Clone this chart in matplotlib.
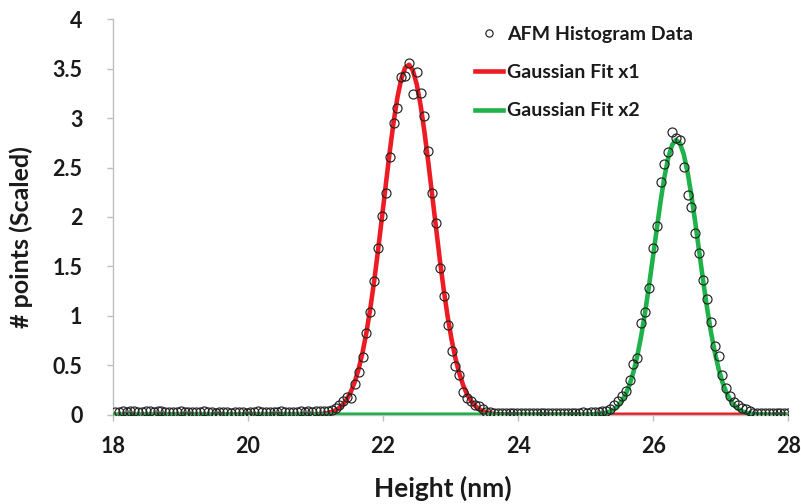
#!/usr/bin/env python3
"""AFM height histogram with two Gaussian fits."""

from __future__ import annotations

import matplotlib

matplotlib.use("Agg")
import matplotlib.pyplot as plt
import numpy as np

# Histogram bins (nm): first bin centre and bin width
BIN_START = 18.03
BIN_WIDTH = 0.0573

# Scaled counts per bin
counts = [
    0.03, 0.03, 0.04, 0.03, 0.035, 0.04, 0.03, 0.03, 0.04, 0.035,
    0.03, 0.035, 0.04, 0.03, 0.03, 0.025, 0.03, 0.035, 0.03, 0.025,
    0.03, 0.025, 0.03, 0.035, 0.03, 0.025, 0.02, 0.025, 0.03, 0.025,
    0.02, 0.025, 0.03, 0.025, 0.02, 0.025, 0.03, 0.035, 0.03, 0.025,
    0.03, 0.025, 0.03, 0.035, 0.03, 0.025, 0.03, 0.03, 0.035, 0.03,
    0.035, 0.03, 0.035, 0.04, 0.035, 0.04, 0.05, 0.067, 0.10, 0.135,
    0.175, 0.17, 0.31, 0.43, 0.58, 0.83, 1.04, 1.35, 1.69, 2.01,
    2.245, 2.61, 2.95, 3.10, 3.42, 3.43, 3.56, 3.24, 3.47, 3.25,
    3.02, 2.67, 2.24, 1.94, 1.48, 1.205, 0.91, 0.65, 0.495, 0.40,
    0.23, 0.17, 0.135, 0.10, 0.084, 0.06, 0.033, 0.025, 0.02, 0.02,
    0.015, 0.02, 0.015, 0.02, 0.015, 0.015, 0.02, 0.015, 0.02, 0.015,
    0.015, 0.02, 0.015, 0.015, 0.02, 0.015, 0.02, 0.015, 0.02, 0.02,
    0.02, 0.025, 0.02, 0.025, 0.03, 0.03, 0.035, 0.043, 0.06, 0.094,
    0.135, 0.185, 0.24, 0.35, 0.51, 0.57, 0.93, 1.04, 1.28, 1.69,
    1.91, 2.35, 2.54, 2.66, 2.86, 2.795, 2.78, 2.51, 2.22, 2.10,
    1.84, 1.64, 1.36, 1.17, 0.94, 0.70, 0.59, 0.40, 0.275, 0.19,
    0.125, 0.094, 0.068, 0.055, 0.043, 0.023, 0.02, 0.015, 0.02, 0.015,
    0.015, 0.02, 0.015, 0.015, 0.015,
]

# Fitted curves evaluated on the same bins (zero outside the listed span)
fit_x1 = [0.0] * 50 + [
    0.001, 0.0018, 0.0032, 0.0058, 0.010, 0.0169, 0.0279, 0.0449, 0.0705, 0.108,
    0.1616, 0.2358, 0.3356, 0.466, 0.631, 0.835, 1.077, 1.355, 1.664, 1.993,
    2.329, 2.656, 2.955, 3.208, 3.397, 3.510, 3.539, 3.481, 3.340, 3.128,
    2.857, 2.546, 2.215, 1.879, 1.555, 1.256, 0.989, 0.761, 0.571, 0.418,
    0.298, 0.208, 0.141, 0.0936, 0.0606, 0.0382, 0.0235, 0.0142, 0.0083, 0.0047,
    0.0026, 0.0014,
] + [0.0] * 73

fit_x2 = [0.0] * 120 + [
    0.0002, 0.0004, 0.0009, 0.0017, 0.0034, 0.0062, 0.0113, 0.0198, 0.0336, 0.0555,
    0.0888, 0.138, 0.208, 0.304, 0.432, 0.595, 0.795, 1.031, 1.297, 1.583,
    1.875, 2.154, 2.402, 2.599, 2.729, 2.779, 2.747, 2.635, 2.452, 2.214,
    1.940, 1.649, 1.360, 1.088, 0.845, 0.637, 0.466, 0.330, 0.227, 0.152,
    0.098, 0.062, 0.0378, 0.0224, 0.0128, 0.0072, 0.0039, 0.002, 0.001,
] + [0.0] * 6

x_ticks = [18, 20, 22, 24, 26, 28]
y_ticks = [0, 0.5, 1, 1.5, 2, 2.5, 3, 3.5, 4]
y_tick_labels = ["0", "0.5", "1", "1.5", "2", "2.5", "3", "3.5", "4"]

RED = "#ed1c24"
GREEN = "#1fb24a"
AXIS_GREY = "#bfbfbf"
TEXT = "#1a1a1a"


def main() -> None:
    plt.rcParams["font.family"] = ["Lato", "DejaVu Sans"]
    plt.rcParams["font.weight"] = "bold"

    height = BIN_START + BIN_WIDTH * np.arange(len(counts))

    fig = plt.figure(figsize=(8.01, 5.04), dpi=100)
    ax = fig.add_axes([0.141, 0.177, 0.843, 0.785])

    ax.plot(height, fit_x1, color=RED, lw=3.3, label="Gaussian Fit x1", zorder=2)
    ax.plot(height, fit_x2, color=GREEN, lw=3.3, label="Gaussian Fit x2", zorder=3)
    ax.plot(height, counts, ls="none", marker="o", ms=6.5, mfc="none",
            mec="#222222", mew=0.85, label="AFM Histogram Data", zorder=4)

    ax.set_xlim(18, 28)
    ax.set_ylim(0, 4)
    ax.set_xticks(x_ticks)
    ax.set_xticklabels([str(t) for t in x_ticks])
    ax.set_yticks(y_ticks)
    ax.set_yticklabels(y_tick_labels)
    ax.tick_params(axis="both", direction="out", length=4, width=1,
                   color=AXIS_GREY, labelsize=15.5, labelcolor=TEXT)
    ax.tick_params(axis="x", pad=11)
    ax.tick_params(axis="y", pad=18)

    for side in ("top", "right"):
        ax.spines[side].set_visible(False)
    for side in ("left", "bottom"):
        ax.spines[side].set_color(AXIS_GREY)
        ax.spines[side].set_linewidth(1)

    ax.set_xlabel("Height (nm)", fontsize=19, fontweight="bold", color=TEXT)
    ax.set_ylabel("# points (Scaled)", fontsize=18, fontweight="bold", color=TEXT)
    ax.xaxis.set_label_coords(0.489, -0.155)
    ax.yaxis.set_label_coords(-0.119, 0.449)

    handles, labels = ax.get_legend_handles_labels()
    order = [2, 0, 1]
    leg = ax.legend([handles[i] for i in order], [labels[i] for i in order],
                    loc="upper left", bbox_to_anchor=(0.51, 1.028),
                    frameon=False, fontsize=14, handlelength=1.45,
                    handletextpad=0.2, labelspacing=1.1, markerscale=0.8)
    for text in leg.get_texts():
        text.set_color(TEXT)

    fig.savefig("out.png", dpi=100)


if __name__ == "__main__":
    main()
